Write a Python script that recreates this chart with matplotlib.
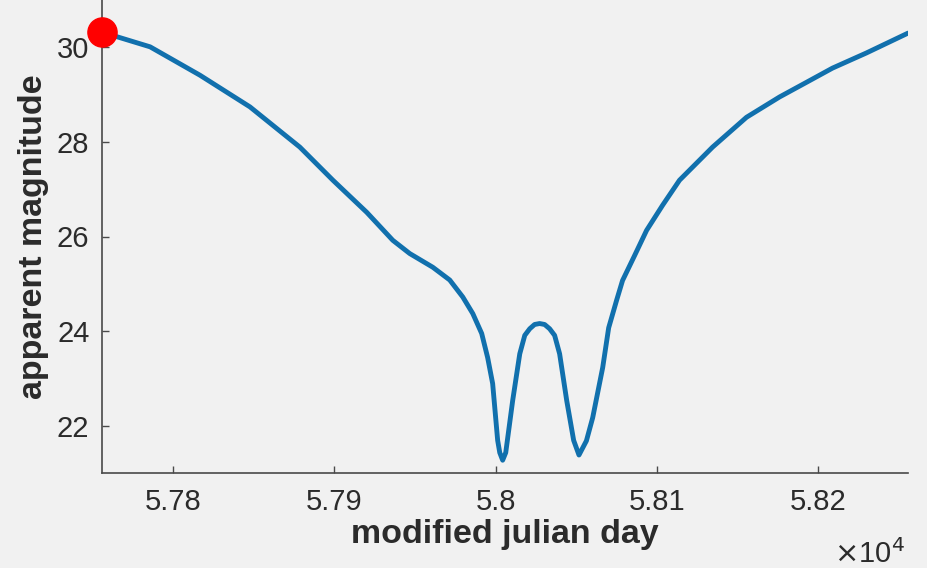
import matplotlib
matplotlib.use('Agg')
import matplotlib.pyplot as plt
from matplotlib.ticker import FuncFormatter

plt.rcParams['font.family'] = ['Liberation Sans', 'DejaVu Sans']

# light curve of the object: modified julian day vs apparent magnitude
mjd = [57756.0, 57785.8, 57816.7, 57847.7, 57878.6, 57899.1, 57920.1, 57936.2,
       57946.7, 57961.0, 57971.5, 57979.6, 57985.8, 57991.3, 57995.0, 57998.1,
       58001.2, 58002.5, 58004.3, 58006.2, 58008.0, 58010.5, 58014.9, 58018.0,
       58021.1, 58024.1, 58027.2, 58030.3, 58033.4, 58036.5, 58039.6, 58044.0,
       58048.3, 58051.6, 58056.2, 58060.1, 58063.2, 58066.3, 58070.0, 58074.9,
       58078.6, 58086.1, 58093.5, 58103.4, 58113.9, 58134.4, 58155.4, 58175.9,
       58192.6, 58208.7, 58229.7, 58255.5]
mag = [30.32, 30.01, 29.41, 28.74, 27.89, 27.19, 26.51, 25.92,
       25.64, 25.35, 25.08, 24.72, 24.37, 23.95, 23.44, 22.89,
       21.69, 21.43, 21.27, 21.43, 21.89, 22.53, 23.52, 23.91,
       24.05, 24.14, 24.16, 24.14, 24.05, 23.91, 23.52, 22.53,
       21.69, 21.38, 21.68, 22.17, 22.70, 23.23, 24.07, 24.65,
       25.07, 25.60, 26.13, 26.66, 27.19, 27.89, 28.52, 28.95,
       29.26, 29.56, 29.88, 30.30]

x_ticks = [57800, 57900, 58000, 58100, 58200]
y_ticks = [22, 24, 26, 28, 30]

bg = '#f1f1f1'
axis_col = '#4a4a4a'
text_col = '#2b2b2b'

fig = plt.figure(figsize=(9.28, 5.68), dpi=100, facecolor=bg)
ax = fig.add_axes([102 / 928, 95 / 568, 806 / 928, 473 / 568], facecolor=bg)

ax.plot(mjd, mag, color='#1170ad', linewidth=3.5, solid_capstyle='round',
        solid_joinstyle='round', zorder=2)
ax.plot(mjd[0], mag[0], 'o', color='#ff0000', markersize=21, zorder=3, clip_on=False)

ax.set_xlim(mjd[0], mjd[-1])
ax.set_ylim(21, 31)
ax.set_xticks(x_ticks)
ax.set_yticks(y_ticks)
ax.xaxis.set_major_formatter(FuncFormatter(lambda v, p: '%g' % (v / 1e4)))

for side in ['top', 'right']:
    ax.spines[side].set_visible(False)
for side in ['left', 'bottom']:
    ax.spines[side].set_color(axis_col)
    ax.spines[side].set_linewidth(1.2)

ax.tick_params(axis='both', direction='in', length=5, width=1.0, color=axis_col,
               labelsize=21, labelcolor=text_col)
ax.tick_params(axis='x', pad=11)
ax.tick_params(axis='y', pad=9)

ax.set_xlabel('modified julian day', fontsize=24.5, fontweight='bold', color=text_col, labelpad=2)
ax.set_ylabel('apparent magnitude', fontsize=24.5, fontweight='bold', color=text_col, labelpad=6)

fig.text(905 / 928, 1 - 563 / 568, r'$\times$10$^{4}$', fontsize=21, color=text_col,
         ha='right', va='baseline')

fig.savefig('out.png', dpi=100, facecolor=bg)
